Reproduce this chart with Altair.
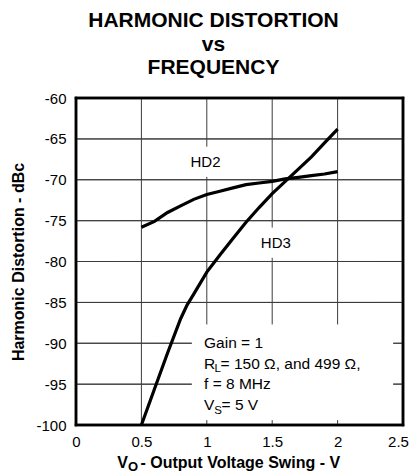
import altair as alt
import pandas as pd

FONT = "Liberation Sans"
NB = "\u00a0"

# ---- data ----
hd2_x = [0.5, 0.6, 0.7, 0.8, 0.9, 1.0, 1.1, 1.2, 1.3, 1.4, 1.5, 1.6, 1.7, 1.8, 1.9, 2.0]
hd2_y = [-75.8, -75.1, -74.0, -73.2, -72.4, -71.8, -71.4, -71.0, -70.6, -70.4, -70.2, -69.9,
         -69.7, -69.5, -69.3, -69.0]
hd3_x = [0.5, 0.6, 0.7, 0.8, 0.85, 0.9, 1.0, 1.1, 1.2, 1.3, 1.4, 1.5, 1.6, 1.7, 1.8, 1.9, 2.0]
hd3_y = [-100.0, -95.6, -91.2, -87.0, -85.3, -84.0, -81.3, -79.2, -77.2, -75.2, -73.4, -71.7,
         -70.2, -68.7, -67.2, -65.5, -63.8]
x_ticks = [0, 0.5, 1, 1.5, 2, 2.5]
y_ticks = [-100, -95, -90, -85, -80, -75, -70, -65, -60]

series_labels = ["HD2", "HD3"]
label_x = [0.99, 1.528]
label_y = [-67.85, -77.7]

# clear areas (no grid) behind the two labels and the conditions note
box_x1 = [0.86, 1.40, 0.885]
box_x2 = [1.12, 1.66, 2.425]
box_y1 = [-65.95, -75.85, -87.7]
box_y2 = [-69.65, -79.55, -99.4]

note_x = 0.979
note_y = [-90.55, -93.1, -95.65, -98.2]

W, H = 327, 327
x_lo, x_hi = x_ticks[0], x_ticks[-1]
y_lo, y_hi = y_ticks[0], y_ticks[-1]
PX_X = (x_hi - x_lo) / W     # data units per pixel
PX_Y = (y_hi - y_lo) / H

curves = pd.DataFrame({
    "series": ["HD2"] * len(hd2_x) + ["HD3"] * len(hd3_x),
    "v": hd2_x + hd3_x,
    "d": hd2_y + hd3_y,
})
labels = pd.DataFrame({"t": series_labels, "v": label_x, "d": label_y})


def pieces(lo, hi, gaps):
    out, cur = [], lo
    for a, b in sorted(gaps):
        if a > cur:
            out.append((cur, a))
        cur = max(cur, b)
    if cur < hi:
        out.append((cur, hi))
    return out


boxes = list(zip(box_x1, box_x2, box_y1, box_y2))
vrows, hrows, hrects, sid = [], [], [], 0
for xv in x_ticks[1:-1]:
    gaps = [(min(b[2], b[3]), max(b[2], b[3])) for b in boxes if b[0] < xv < b[1]]
    for a, b in pieces(y_lo, y_hi, gaps):
        vrows += [{"id": sid, "k": 0, "v": xv, "d": a}, {"id": sid, "k": 1, "v": xv, "d": b}]
        sid += 1
for yv in y_ticks[1:-1]:
    gaps = [(b[0], b[1]) for b in boxes if min(b[2], b[3]) < yv < max(b[2], b[3])]
    for a, b in pieces(x_lo, x_hi, gaps):
        hrows += [{"id": sid, "k": 0, "v": a, "d": yv},
                  {"id": sid, "k": 1, "v": b, "d": yv + 0.02 * PX_Y}]
        hrects.append({"x1": a, "x2": b, "y1": yv - 0.5 * PX_Y, "y2": yv + 0.5 * PX_Y})
        sid += 1
vgrid = pd.DataFrame(vrows)
hgrid = pd.DataFrame(hrows)
hgrid_r = pd.DataFrame(hrects)

bw = 1.25
frame_outer = pd.DataFrame({"x1": [x_lo - bw * PX_X], "x2": [x_hi + bw * PX_X],
                            "y1": [y_lo - bw * PX_Y], "y2": [y_hi + bw * PX_Y]})
frame_inner = pd.DataFrame({"x1": [x_lo + bw * PX_X], "x2": [x_hi - bw * PX_X],
                            "y1": [y_lo + bw * PX_Y], "y2": [y_hi - bw * PX_Y]})
frame = pd.DataFrame({
    "id": [0, 0, 1, 1, 2, 2, 3, 3],
    "k": [0, 1, 0, 1, 0, 1, 0, 1],
    "v": [x_lo, x_lo, x_hi, x_hi, x_lo, x_hi, x_lo, x_hi],
    "d": [y_lo, y_hi, y_lo, y_hi, y_lo, y_lo + 0.02 * PX_Y, y_hi, y_hi + 0.02 * PX_Y],
})

xs = alt.Scale(domain=[x_lo, x_hi], nice=False, zero=False)
ys = alt.Scale(domain=[y_lo, y_hi], nice=False, zero=False)

GRID = "#3c3c3c"
xaxis = alt.Axis(values=x_ticks, labelExpr="'' + datum.value", grid=False, domain=False,
                 ticks=False, labelPadding=9, labelFont=FONT, labelFontSize=15,
                 labelColor="black", title=None, labelFlush=False,
                 labelOffset={"expr": "datum.value == 2.5 ? -5 : 0"})
yaxis = alt.Axis(values=y_ticks, labelExpr="'' + datum.value", grid=False, domain=False,
                 ticks=False, labelPadding=10, labelFont=FONT, labelFontSize=15,
                 labelColor="black", title="Harmonic Distortion - dBc",
                 titleFont=FONT, titleFontSize=16, titleFontWeight="bold", titleColor="black",
                 titlePadding=9)


def X(f):
    return alt.X(f, type="quantitative", scale=xs, axis=xaxis)


def Y(f):
    return alt.Y(f, type="quantitative", scale=ys, axis=yaxis)


outer = alt.Chart(frame_outer).mark_rect(color="black").encode(
    x=X("x1"), x2="x2", y=Y("y1"), y2="y2")
inner = alt.Chart(frame_inner).mark_rect(color="white").encode(
    x=X("x1"), x2="x2", y=Y("y1"), y2="y2")

vlines = alt.Chart(vgrid).mark_line(color=GRID, strokeWidth=1).encode(
    x=X("v"), y=Y("d"), detail="id:N", order="k:Q")
hlines = alt.Chart(hgrid).mark_line(color=GRID, strokeWidth=1).encode(
    x=X("v"), y=Y("d"), detail="id:N", order="k:Q")
hbars = alt.Chart(hgrid_r).mark_rect(color=GRID).encode(
    x=X("x1"), x2="x2", y=Y("y1"), y2="y2")

lines = alt.Chart(curves).mark_line(color="black", strokeWidth=3.2, strokeCap="butt").encode(
    x=X("v"), y=Y("d"), detail="series:N")

lab = alt.Chart(labels).mark_text(font=FONT, fontSize=15, color="black").encode(
    x=X("v"), y=Y("d"), text="t:N")

border = alt.Chart(frame).mark_line(color="black", strokeWidth=2.5, strokeCap="square").encode(
    x=X("v"), y=Y("d"), detail="id:N", order="k:Q")


def note(text, yv, dx=0, dy=0, size=15.5, weight="normal"):
    df = pd.DataFrame({"v": [note_x], "d": [yv], "t": [text]})
    return alt.Chart(df).mark_text(font=FONT, fontSize=size, align="left", baseline="alphabetic",
                                   dx=dx, dy=dy, color="black", fontWeight=weight).encode(
        x=X("v"), y=Y("d"), text="t:N")


notes = [
    note("Gain = 1", note_y[0]),
    note("R", note_y[1]),
    note("L", note_y[1], dx=10.5, dy=3.5, size=11.5),
    note(NB + "= 150 \u03a9, and 499 \u03a9,", note_y[1], dx=16.5),
    note("f = 8 MHz", note_y[2]),
    note("V", note_y[3]),
    note("S", note_y[3], dx=10.3, dy=3.5, size=11.5),
    note(NB + "= 5 V", note_y[3], dx=17.5),
]


def xtitle(text, px, py, size):
    df = pd.DataFrame({"t": [text]})
    return alt.Chart(df).mark_text(font=FONT, fontSize=size, fontWeight="bold", align="left",
                                   baseline="alphabetic", color="black").encode(
        x=alt.value(px), y=alt.value(py), text="t:N")


xt = [
    xtitle("V", 41.3, 369.7, 16),
    xtitle("O", 52.0, 373.0, 13),
    xtitle(NB + "- Output Voltage Swing - V", 64.5, 369.7, 16),
]

chart = alt.layer(outer, inner, vlines, hlines, hbars, lines, lab, *notes, *xt, border).properties(
    width=W,
    height=H,
    autosize=alt.AutoSizeParams(type="none"),
    padding={"left": 68, "top": 90, "right": 6, "bottom": 49},
    title=alt.TitleParams(
        text=["HARMONIC DISTORTION", "vs", "FREQUENCY"],
        font=FONT, fontSize=21, fontWeight="bold", lineHeight=23.5,
        anchor="middle", dx=-26, offset=13, color="black"),
).configure_view(strokeWidth=0)

chart.save("out.html", embed_options={"renderer": "svg", "actions": False})
